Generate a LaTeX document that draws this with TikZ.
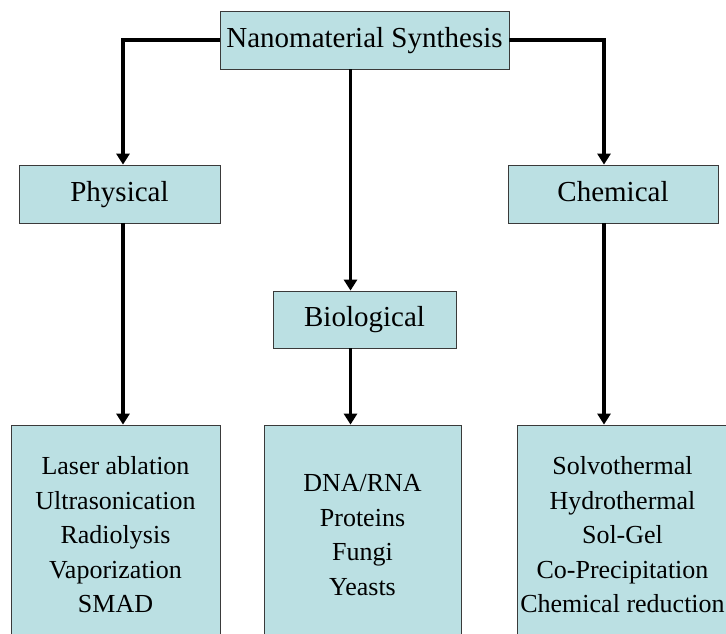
\documentclass[tikz,border=0pt]{standalone}
\usepackage{fontspec}
\setmainfont{Liberation Serif}
\usetikzlibrary{positioning, arrows.meta}
\definecolor{boxfill}{HTML}{BBE0E3}
\definecolor{boxline}{HTML}{3A3A3A}
\newcommand{\HeadF}{\fontsize{29}{34}\selectfont}
\newcommand{\ListF}{\fontsize{26}{34.5}\selectfont}

\begin{document}
\begin{tikzpicture}[x=1pt,y=-1pt,
  box/.style={draw=boxline, line width=0.8pt, fill=boxfill, inner sep=0pt},
  headbox/.style={box, minimum height=58pt, font=\HeadF, text height=20pt, text depth=6pt},
  listbox/.style={box, minimum height=220pt, align=center, font=\ListF},
  link/.style={line width=3.6pt, -{Triangle[length=11pt,width=13pt]}}]
\useasboundingbox (0,0) rectangle (726,633);
% levels
\node[headbox, minimum width=289pt] (synth) at (364.5,40) {Nanomaterial Synthesis};
\node[headbox, minimum width=201pt] (phys) at (119.5,194) {Physical};
\node[headbox, minimum width=210pt] (chem) at (613,194) {Chemical};
\node[headbox, minimum width=183pt, minimum height=57pt] (bio) at (364.5,319.5) {Biological};
\node[listbox, minimum width=209pt] (physlist) at (115.5,535)
  {Laser ablation\\Ultrasonication\\Radiolysis\\Vaporization\\SMAD};
\node[listbox, minimum width=197pt] (biolist) at (362.5,535)
  {DNA/RNA\\Proteins\\Fungi\\Yeasts};
\node[listbox, minimum width=211pt] (chemlist) at (622.5,535)
  {Solvothermal\\Hydrothermal\\Sol-Gel\\Co-Precipitation\\Chemical reduction};
% connectors
\draw[link] (synth.west) -| ([xshift=3.5]phys.north);
\draw[link] (synth.east) -| ([xshift=-9]chem.north);
\draw[link] ([xshift=-14]synth.south) -- ([xshift=-14]bio.north);
\draw[link] ([xshift=3.5]phys.south) -- ([xshift=7.5]physlist.north);
\draw[link] ([xshift=-14]bio.south) -- ([xshift=-12]biolist.north);
\draw[link] ([xshift=-9]chem.south) -- ([xshift=-18.5]chemlist.north);
\end{tikzpicture}
\end{document}
